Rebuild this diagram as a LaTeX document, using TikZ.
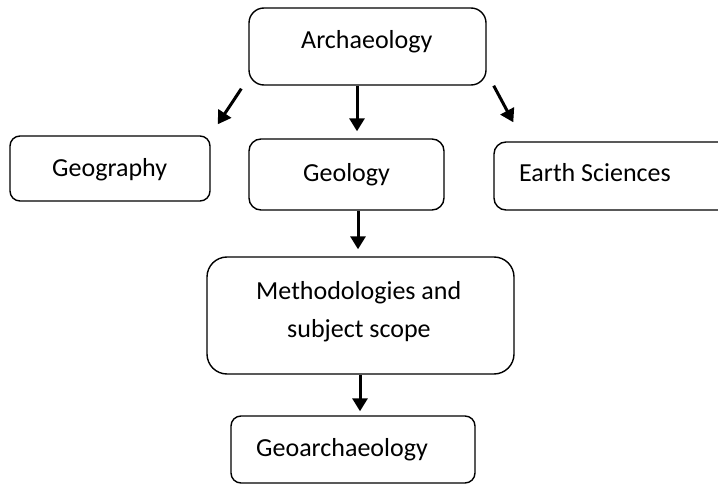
\documentclass[tikz,border=0pt]{standalone}
\usepackage{fontspec}
\setmainfont{Carlito}
\usetikzlibrary{arrows.meta,calc}
\begin{document}
\begin{tikzpicture}[x=1pt,y=-1pt,
  box/.style={draw=black,line width=1.4pt,rectangle,inner sep=0pt,fill=white},
  lbl/.style={inner sep=0pt,anchor=base west,font=\fontsize{26}{31}\selectfont},
  arr/.style={line width=3pt,-{Triangle[length=13pt,width=15pt]}}]
\useasboundingbox (0,0) rectangle (718,484);
\clip (0,0) rectangle (718,484);
\fill[white] (0,0) rectangle (718,484);
% boxes
\node[box,rounded corners=15pt,minimum width=237pt,minimum height=77pt] (arch) at (367.5,46.5) {};
\node[box,rounded corners=10pt,minimum width=200pt,minimum height=65pt] (geog) at (110,168.5) {};
\node[box,rounded corners=12pt,minimum width=195pt,minimum height=71pt] (geol) at (346.5,174.5) {};
\node[box,rounded corners=12pt,minimum width=246pt,minimum height=68pt] (earth) at (617,176) {};
\node[box,rounded corners=20pt,minimum width=307pt,minimum height=117pt] (meth) at (360.5,315.5) {};
\node[box,rounded corners=10pt,minimum width=244pt,minimum height=67pt] (geoa) at (353,449.5) {};
% texts
\node[lbl] (tarch) at (301,49) {Archaeology};
\node[lbl] (tgeog) at (52,177) {Geography};
\node[lbl] (tgeol) at (303,182) {Geology};
\node[lbl] (tearth) at (519,182) {Earth Sciences};
\node[lbl] (tmeth1) at (256,299) {Methodologies and};
\node[lbl] (tmeth2) at (287,337) {subject scope};
\node[lbl] (tgeoa) at (256,456) {Geoarchaeology};
% arrows
\draw[arr] ($(arch.south west)+(-7,3)$) -- ($(geog.north east)+(7,-11)$);
\draw[arr] ($(arch.south)+(-10.5,0)$) -- ($(geol.north)+(10.5,-7)$);
\draw[arr] ($(arch.south east)+(7,0)$) -- ($(earth.north west)+(20,-19)$);
\draw[arr] ($(geol.south)+(11.5,0.7)$) -- ($(meth.north)+(-2.5,-7)$);
\draw[arr] ($(meth.south)+(-0.5,0.7)$) -- ($(geoa.north)+(7,-4)$);
\end{tikzpicture}
\end{document}
